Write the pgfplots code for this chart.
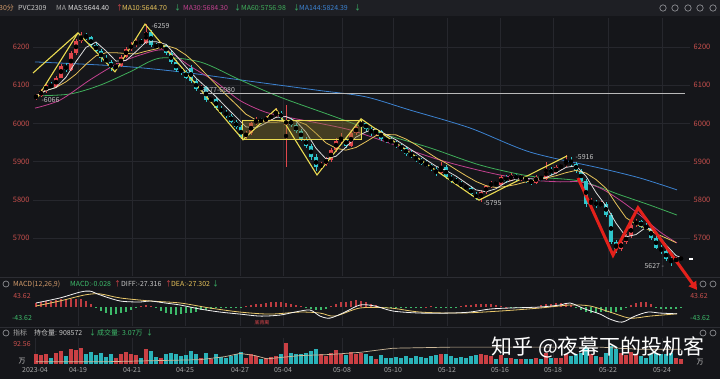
\documentclass[border=0pt]{standalone}
\usepackage{pgfplots}
\pgfplotsset{compat=1.18}
\usepackage{pgfplotstable}
\usepackage{fontspec}
\setmainfont{Noto Sans CJK SC}
\usetikzlibrary{arrows.meta}
\definecolor{bg}{HTML}{15161A}
\definecolor{hdr}{HTML}{1E1F24}
\definecolor{gridc}{HTML}{26272D}
\definecolor{sepc}{HTML}{2C2D33}
\definecolor{upc}{HTML}{E0474C}
\definecolor{dnc}{HTML}{2FC6CC}
\definecolor{pricered}{HTML}{C9504D}
\definecolor{greenc}{HTML}{3DBA6A}
\definecolor{ma5}{HTML}{DCDCDC}
\definecolor{ma10}{HTML}{E6C25A}
\definecolor{ma30}{HTML}{C2418F}
\definecolor{ma60}{HTML}{3FAE5A}
\definecolor{ma144}{HTML}{3C82D0}
\definecolor{gold}{HTML}{EADB52}
\definecolor{boxc}{HTML}{8C7A30}
\definecolor{arrowred}{HTML}{E3211B}
\definecolor{labgray}{HTML}{A8A8A8}
\definecolor{txt}{HTML}{C8C8C8}
\definecolor{oic}{HTML}{CDB99A}
\definecolor{macdtan}{HTML}{D29A6A}
\definecolor{icon}{HTML}{8A8B90}
\newcommand\fs[1]{\fontsize{#1}{#1}\selectfont}

\pgfplotstableread{
x o h l c v
36 6066 6078 6062 6072 45
41 6072 6090 6068 6085 42
46 6085 6104 6080 6100 48
56 6095 6125 6092 6120 52
61 6120 6155 6118 6150 60
71 6140 6190 6138 6185 68
76 6185 6222 6180 6215 63
81 6215 6240 6210 6230 75
116 6145 6158 6140 6150 30
121 6150 6180 6148 6175 48
126 6175 6200 6170 6195 57
131 6195 6212 6190 6205 45
136 6205 6222 6200 6215 42
146 6210 6259 6208 6240 68
161 6200 6212 6196 6205 27
201 6090 6100 6085 6095 27
211 6060 6070 6055 6065 22
246 5965 5980 5960 5975 30
251 5975 6005 5970 6000 45
256 6000 6018 5995 6010 38
266 6005 6020 6000 6015 27
271 6015 6025 6010 6020 33
276 6020 6040 6015 6028 38
286 5995 6048 5886 6010 95
321 5885 5900 5878 5895 45
326 5895 5912 5888 5905 38
331 5905 5935 5900 5930 52
336 5930 5962 5925 5955 63
341 5955 5975 5945 5960 45
351 5940 5980 5938 5975 57
356 5975 5995 5970 5990 45
361 5990 6010 5985 6002 52
376 5975 5985 5970 5980 22
441 5870 5900 5868 5885 45
481 5805 5825 5795 5820 45
486 5820 5840 5815 5835 42
491 5835 5850 5830 5845 38
501 5840 5865 5838 5860 42
511 5850 5870 5848 5865 30
521 5855 5865 5850 5860 21
536 5845 5865 5842 5860 30
546 5855 5900 5852 5880 52
556 5870 5890 5868 5885 30
561 5885 5895 5878 5890 27
566 5890 5916 5885 5900 45
591 5790 5805 5785 5795 45
601 5785 5798 5780 5790 33
621 5670 5695 5665 5690 52
626 5690 5710 5685 5705 42
631 5705 5740 5700 5735 57
636 5735 5750 5728 5745 45
676 5640 5650 5635 5645 30
681 5645 5652 5640 5648 22
}\uptab

\pgfplotstableread{
x o h l c v
51 6100 6108 6090 6095 30
66 6150 6158 6135 6140 38
86 6230 6238 6218 6225 45
91 6225 6230 6198 6205 57
96 6205 6212 6185 6190 42
101 6190 6195 6162 6170 52
106 6170 6178 6155 6160 33
111 6160 6165 6138 6145 45
141 6215 6220 6205 6210 30
151 6240 6245 6200 6205 60
156 6205 6210 6195 6200 33
166 6205 6208 6180 6185 45
171 6185 6190 6155 6160 52
176 6160 6165 6135 6140 48
181 6140 6148 6128 6135 38
186 6135 6140 6115 6120 42
191 6145 6152 6105 6110 60
196 6110 6115 6085 6090 45
206 6095 6098 6055 6060 52
216 6065 6068 6035 6040 45
221 6040 6045 6025 6030 33
226 6030 6035 6015 6020 30
231 6020 6025 6000 6005 38
236 6005 6010 5985 5990 45
241 5990 5995 5958 5965 57
261 6010 6015 5998 6005 22
281 6028 6032 6010 6015 45
291 6010 6015 5990 5995 52
296 5995 6000 5975 5980 45
301 5980 5985 5955 5960 48
306 5960 5965 5935 5940 52
311 5940 5945 5905 5912 60
316 5912 5920 5875 5885 68
346 5960 5965 5935 5940 42
366 6002 6005 5980 5985 45
371 5985 5990 5968 5975 38
381 5980 5982 5955 5960 42
386 5960 5965 5948 5955 30
391 5955 5962 5945 5950 27
396 5950 5955 5935 5940 33
401 5940 5945 5928 5935 27
406 5935 5938 5915 5920 38
411 5920 5930 5910 5915 30
416 5915 5918 5898 5905 36
421 5905 5910 5890 5895 33
426 5895 5905 5885 5890 30
431 5890 5895 5875 5880 38
436 5880 5885 5862 5870 42
446 5885 5890 5855 5860 48
451 5860 5865 5845 5850 38
456 5850 5858 5840 5845 30
461 5845 5850 5830 5835 33
466 5835 5840 5825 5830 27
471 5830 5835 5810 5815 38
476 5815 5820 5800 5805 42
496 5845 5850 5835 5840 22
506 5860 5865 5845 5850 27
516 5865 5868 5850 5855 22
526 5860 5862 5845 5850 24
531 5850 5855 5840 5845 22
541 5860 5862 5850 5855 21
551 5880 5885 5865 5870 27
571 5900 5912 5888 5895 38
576 5895 5900 5870 5875 45
581 5875 5880 5845 5850 52
586 5850 5855 5782 5790 80
596 5795 5800 5778 5785 38
606 5790 5795 5755 5760 52
611 5760 5765 5685 5690 85
616 5690 5695 5660 5670 68
641 5745 5748 5725 5730 38
646 5730 5738 5720 5725 30
651 5725 5728 5695 5700 45
656 5700 5705 5670 5675 52
661 5675 5682 5658 5665 45
666 5665 5670 5640 5645 48
671 5645 5652 5627 5640 52
}\dntab

\pgfplotstableread{
x m
36 15
41 20
46 24
51 25
56 28
61 30
66 30
71 32
76 33
81 32
86 25
91 12
96 -5
101 -15
106 -25
111 -30
116 -28
121 -25
126 -20
131 -12
136 -5
141 3
146 8
151 5
156 -5
161 -15
166 -22
171 -28
176 -30
181 -28
186 -25
191 -22
196 -18
201 -12
206 -10
211 -6
216 -5
221 -4
226 -3
231 -3
236 -4
241 -5
246 3
251 6
256 10
261 12
266 15
271 18
276 20
281 18
286 15
291 12
296 8
301 3
306 -3
311 -8
316 -12
321 -10
326 -6
331 5
336 12
341 18
346 20
351 24
356 28
361 25
366 18
371 10
376 6
381 2
386 -3
391 -4
396 -5
401 -5
406 -4
411 -4
416 -3
421 -2
426 2
431 3
436 -2
441 -3
446 -4
451 -3
456 -2
461 3
466 6
471 9
476 11
481 12
486 12
491 10
496 8
501 5
506 1
511 -1
516 -2
521 -2
526 -1
531 1
536 2
541 6
546 10
551 13
556 15
561 14
566 12
571 8
576 -5
581 -12
586 -18
591 -22
596 -22
601 -20
606 -20
611 -22
616 -18
621 -12
626 -5
631 8
636 15
641 20
646 18
651 12
656 -3
661 -6
666 -8
671 -8
676 -6
681 -4
}\macdtab

\pgfplotsset{panel/.style={scale only axis, width=657bp, xmin=33, xmax=690,
  axis line style={draw=none}, major tick length=0pt, tick style={draw=none},
  xtick={78,132,185,240,283,342,393,447,500,553,608,662}, xmajorgrids,
  grid style={draw=gridc, line width=0.6bp}, xticklabels={}, yticklabels={},
  anchor=south west, clip=false}}

\begin{document}
\begin{tikzpicture}[x=1bp,y=1bp]
\fill[bg] (0,0) rectangle (720,379);
\fill[hdr] (0,363) rectangle (720,379);
\draw[sepc, line width=0.6bp] (0,102) -- (720,102);
\draw[sepc, line width=0.6bp] (0,52) -- (720,52);

% ---------------- main panel ----------------
\begin{axis}[panel, at={(33bp,103bp)}, height=258bp, ymin=5600.5, ymax=6276,
  ytick={5700,5800,5900,6000,6100,6200}, ymajorgrids,
  yticklabels={5700,5800,5900,6000,6100,6200},
  yticklabel style={text=pricered, font=\fs{7.5}}]
\addplot[ma144, line width=0.8bp, smooth] coordinates {(35,6161)(120,6150)(180,6135)(240,6114)(317,6087)(365,6070)(410,6035)(470,5988)(530,5925)(600,5883)(640,5857)(677,5826)};
\addplot[ma60, line width=0.8bp, smooth] coordinates {(35,6072)(70,6077)(100,6100)(130,6135)(160,6171)(200,6161)(240,6114)(280,6069)(330,6022)(380,5975)(430,5936)(480,5891)(530,5862)(580,5849)(620,5813)(650,5786)(677,5760)};
\addplot[ma30, line width=0.8bp, smooth] coordinates {(35,6040)(60,6061)(90,6114)(115,6153)(140,6179)(165,6192)(190,6150)(215,6110)(240,6060)(265,6030)(290,6015)(320,6000)(350,5983)(380,5957)(410,5930)(440,5904)(470,5883)(500,5865)(530,5852)(560,5847)(580,5847)(600,5831)(620,5799)(640,5760)(660,5716)(677,5687)};
\addplot[only marks, mark=none, error bars/.cd, y dir=both, y explicit, error mark=none,
  error bar style={draw=upc, line width=0.8bp}]
  table[x=x, y expr={0.5*(\thisrow{h}+\thisrow{l})}, y error expr={0.5*(\thisrow{h}-\thisrow{l})}] {\uptab};
\addplot[only marks, mark=none, error bars/.cd, y dir=both, y explicit, error mark=none,
  error bar style={draw=dnc, line width=0.8bp}]
  table[x=x, y expr={0.5*(\thisrow{h}+\thisrow{l})}, y error expr={0.5*(\thisrow{h}-\thisrow{l})}] {\dntab};
\addplot[only marks, mark=none, error bars/.cd, y dir=both, y explicit, error mark=none,
  error bar style={draw=upc, line width=3.8bp}]
  table[x=x, y expr={0.5*(\thisrow{o}+\thisrow{c})}, y error expr={max(0.5*abs(\thisrow{c}-\thisrow{o}),1.5)}] {\uptab};
\addplot[only marks, mark=none, error bars/.cd, y dir=both, y explicit, error mark=none,
  error bar style={draw=dnc, line width=3.8bp}]
  table[x=x, y expr={0.5*(\thisrow{o}+\thisrow{c})}, y error expr={max(0.5*abs(\thisrow{c}-\thisrow{o}),1.5)}] {\dntab};
\addplot[ma10, line width=0.8bp] coordinates {(36,6072)(46,6086)(56,6094)(66,6109)(76,6129)(86,6155)(96,6177)(106,6185)(116,6185)(126,6183)(136,6182)(146,6189)(156,6195)(166,6204)(176,6196)(186,6179)(196,6156)(206,6129)(216,6102)(226,6075)(236,6050)(246,6024)(256,6009)(266,6003)(276,6003)(286,6006)(296,6007)(306,5997)(316,5974)(326,5949)(336,5935)(346,5930)(356,5937)(366,5952)(376,5968)(386,5971)(396,5970)(406,5959)(416,5944)(426,5927)(436,5910)(446,5896)(456,5879)(466,5863)(476,5848)(486,5837)(496,5832)(506,5835)(516,5840)(526,5847)(536,5852)(546,5857)(556,5863)(566,5871)(576,5877)(586,5870)(596,5853)(606,5830)(616,5790)(626,5753)(636,5736)(646,5725)(656,5711)(666,5700)(676,5688)};
\addplot[ma5, line width=0.8bp] coordinates {(36,6072)(46,6086)(56,6094)(66,6121)(76,6162)(86,6199)(96,6213)(106,6190)(116,6163)(126,6165)(136,6188)(146,6213)(156,6214)(166,6207)(176,6178)(186,6148)(196,6119)(206,6095)(216,6070)(226,6043)(236,6017)(246,5991)(256,5988)(266,6001)(276,6016)(286,6018)(296,6006)(306,5977)(316,5935)(326,5907)(336,5914)(346,5938)(356,5964)(366,5978)(376,5986)(386,5971)(396,5957)(406,5940)(416,5923)(426,5905)(436,5888)(446,5877)(456,5862)(466,5844)(476,5826)(486,5821)(496,5829)(506,5846)(516,5854)(526,5856)(536,5854)(546,5858)(556,5870)(566,5885)(576,5889)(586,5862)(596,5819)(606,5784)(616,5739)(626,5703)(636,5709)(646,5728)(656,5715)(666,5682)(676,5654)(681,5649)};
\addplot[draw=gray!55, line width=0.5bp] coordinates {(200,6080)(685,6080)};
\addplot[fill=boxc, fill opacity=0.4, draw=gold, line width=0.7bp] coordinates {(242,5957)(361,5957)(361,6009)(242,6009)(242,5957)};
\addplot[gold, line width=1.1bp] coordinates {(33,6132)(78,6237)(115,6135)(145,6260)(243,5957)(276,6038)(317,5865)(361,6012)(479,5799)(567,5915)};
\addplot[gold, line width=1.1bp] coordinates {(37,6066)(78,6237)};
\addplot[arrowred, line width=3bp, line join=miter, -{Triangle[length=8bp,width=9bp]}] coordinates {(578,5857)(613,5655)(638,5779)(697,5564)};
\node[anchor=west, text=txt, font=\fs{7}] at (axis cs:38,6061) {-6066};
\node[anchor=west, text=txt, font=\fs{7}] at (axis cs:148,6256) {-6259};
\node[anchor=west, text=txt, font=\fs{7}] at (axis cs:198,6088) {6077-6080};
\node[anchor=west, text=txt, font=\fs{7}] at (axis cs:480,5791) {-5795};
\node[anchor=west, text=txt, font=\fs{7}] at (axis cs:572,5913) {-5916};
\node[anchor=west, text=txt, font=\fs{7}] at (axis cs:641,5626) {5627 -};
\node[fill=white, inner sep=0pt, minimum width=4bp, minimum height=2bp] at (axis cs:691,5644) {};
\pgfplotsinvokeforeach{5700,5800,5900,6000,6100,6200}{
  \node[text=pricered, font=\fs{7.5}] at (axis cs:702,#1) {#1};
}
\end{axis}

% ---------------- MACD panel ----------------
\begin{axis}[panel, at={(33bp,53bp)}, height=37bp, ymin=-75.3, ymax=71.4]
\addplot[ycomb, mark=none, draw=upc!85!black, line width=1.3bp, restrict y to domain=0:200] table[x=x, y=m] {\macdtab};
\addplot[ycomb, mark=none, draw=greenc, line width=1.3bp, restrict y to domain=-200:0] table[x=x, y=m] {\macdtab};
\addplot[ma10!90!white, line width=0.8bp, smooth] coordinates {(36,4)(60,24)(85,48)(100,52)(120,36)(150,24)(180,16)(210,-4)(240,-20)(270,-28)(300,-20)(320,-24)(335,-36)(360,-4)(390,-4)(420,-20)(460,-24)(500,-16)(540,-4)(570,8)(590,4)(610,-20)(630,-44)(650,-36)(677,-27)};
\addplot[white!90!gray, line width=0.8bp, smooth] coordinates {(36,16)(60,36)(80,59)(90,63)(100,48)(120,24)(140,20)(150,24)(165,16)(180,8)(200,-8)(220,-20)(240,-28)(260,-36)(280,-32)(295,-20)(310,-12)(320,-36)(330,-44)(345,-20)(360,8)(375,4)(393,-16)(420,-24)(450,-24)(470,-20)(490,-8)(510,-4)(540,0)(560,8)(570,16)(585,-8)(600,-28)(610,-48)(622,-60)(635,-36)(648,-20)(660,-24)(677,-27)};
\node[text=pricered, font=\fs{7}] at (axis cs:22,43.62) {43.62};
\node[text=greenc, font=\fs{7}] at (axis cs:22,-43.62) {-43.62};
\node[text=pricered, font=\fs{7}] at (axis cs:699,43.62) {43.62};
\node[text=greenc, font=\fs{7}] at (axis cs:700,-43.62) {-43.62};
\node[text=upc, font=\fs{5}] at (axis cs:262,-60) {底背离};
\end{axis}

% ---------------- Volume panel ----------------
\begin{axis}[panel, at={(33bp,15bp)}, height=26bp, ymin=0, ymax=120.3,
  xtick={35,78,132,185,240,283,342,393,447,500,553,608,662},
  xticklabels={2023-04,04-19,04-21,04-25,04-27,05-04,05-08,05-10,05-12,05-16,05-18,05-22,05-24},
  xticklabel style={text=labgray, font=\fs{7}}]
\addplot[ycomb, mark=none, draw=upc!90!black, line width=3.4bp] table[x=x, y=v] {\uptab};
\addplot[ycomb, mark=none, draw=dnc!90!black, line width=3.4bp] table[x=x, y=v] {\dntab};
\addplot[oic, line width=0.7bp] coordinates {(36,10)(100,10)(150,15)(200,20)(225,34)(240,49)(255,39)(267,24)(300,39)(330,44)(360,54)(393,73)(450,78)(520,78)(600,78)(640,68)(681,68)};
\node[text=pricered, font=\fs{7}] at (axis cs:22,92.56) {92.56};
\node[text=txt, font=\fs{7}] at (axis cs:22,15) {万};
\node[text=txt, font=\fs{7}] at (axis cs:700,9) {万};
\end{axis}

% ---------------- headers ----------------
\begin{scope}[every node/.style={anchor=west, inner sep=0pt, font=\fs{7}}]
\node[text=macdtan] at (-1,371) {30分};
\node[text=txt] at (18,371) {PVC2309};
\node[text=labgray] at (56,371) {MA};
\node[text=ma5] at (68,371) {MA5:5644.40};
\node[text=upc] at (116,371) {↑};
\node[text=ma10] at (122,371) {MA10:5644.70};
\node[text=greenc] at (174,371) {↓};
\node[text=ma30] at (183,371) {MA30:5684.30};
\node[text=greenc] at (234,371) {↓};
\node[text=ma60] at (241,371) {MA60:5756.98};
\node[text=greenc] at (293,371) {↓};
\node[text=ma144] at (299,371) {MA144:5824.39};
\node[text=greenc] at (354,371) {↓};
\node[text=macdtan] at (13,95) {MACD(12,26,9)};
\node[text=greenc] at (70,95) {MACD:-0.028};
\node[text=upc] at (114,95) {↑};
\node[text=txt] at (121,95) {DIFF:-27.316};
\node[text=upc] at (165,95) {↑};
\node[text=ma10] at (171,95) {DEA:-27.302};
\node[text=greenc] at (212,95) {↓};
\node[text=labgray] at (13,46) {指标};
\node[text=txt] at (34,46) {持仓量: 908572};
\node[text=greenc] at (89,46) {↓};
\node[text=greenc] at (97,46) {成交量: 3.07万};
\node[text=greenc] at (146,46) {↓};
\end{scope}
\foreach \cx in {663,675,688,700,713} {\draw[icon, line width=0.7bp] (\cx,371) circle (3.2);}
\foreach \cx/\cy in {6/95,703/95,713/95,6/46,703/46,713/46} {\draw[icon, line width=0.7bp] (\cx,\cy) circle (3);}
\node[text=white, font=\fs{21}] at (598,32) {知乎 @夜幕下的投机客};
\pgfresetboundingbox
\path[use as bounding box] (0,0) rectangle (720,379);
\end{tikzpicture}
\end{document}
